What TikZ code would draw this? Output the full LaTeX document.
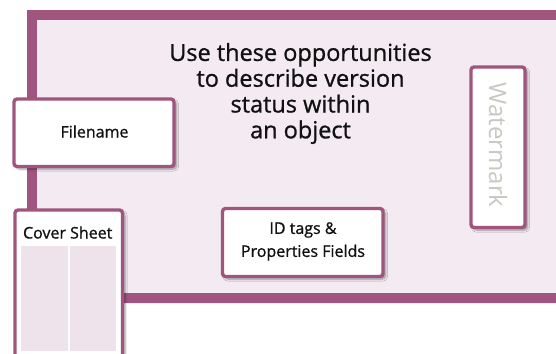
\documentclass[tikz,border=0pt]{standalone}
\usepackage{fontspec}
\setmainfont{Open Sans}
\newfontfamily\heavyfont[FakeBold=0.9]{Open Sans}
\usetikzlibrary{shadows.blur}
\definecolor{frameC}{HTML}{A0557F}
\definecolor{pinkC}{HTML}{F4EAF2}
\definecolor{panelC}{HTML}{EEE3EB}
\definecolor{wmC}{HTML}{C8C8C2}
\definecolor{txtC}{HTML}{111111}
\tikzset{
  tagbox/.style={draw=frameC, line width=3.4pt, fill=white, rounded corners=3pt,
    blur shadow={shadow xshift=2.5pt, shadow yshift=-2.5pt, shadow blur steps=6, shadow opacity=40}},
  smalltxt/.style={font=\heavyfont\fontsize{16}{23}\selectfont, text=txtC, align=center, inner sep=0pt},
}
\begin{document}
\begin{tikzpicture}[x=1pt,y=-1pt]
\useasboundingbox (0,0) rectangle (556,353);
\clip (0,0) rectangle (556,353);
% main frame
\path[draw=frameC, line width=9.5pt, fill=pinkC,
  blur shadow={shadow xshift=2pt, shadow yshift=-4pt, shadow blur steps=6, shadow opacity=35}]
  (32,15) rectangle (620,298);
% title
\node[font=\heavyfont\fontsize{23.5}{25.8}\selectfont, text=txtC, align=center, inner sep=0pt] (title) at (300.5,93.5)
  {Use these opportunities\\to describe version\\status within\\an object};
% filename
\path[tagbox] (14,99) rectangle (174,166.5);
\node[smalltxt] (fn) at (94.5,131.5) {Filename};
% ID tags
\path[tagbox] (222.5,208.5) rectangle (383,276.5);
\node[smalltxt] (id) at (303,241.5) {ID tags \&\\Properties Fields};
% watermark
\path[tagbox] (471,67) rectangle (525,227.5);
\node[font=\fontsize{24}{24}\selectfont, text=wmC, rotate=-90, inner sep=0pt] (wm) at (498,145) {Watermark};
% cover sheet
\path[tagbox] (15,210) rectangle (122.5,370);
\node[smalltxt, anchor=base] (cs) at (67.7,238.5) {Cover Sheet};
\fill[panelC] (21,246) rectangle (68.3,350.5);
\fill[panelC] (69.6,246) rectangle (116,350.5);
\end{tikzpicture}
\end{document}
